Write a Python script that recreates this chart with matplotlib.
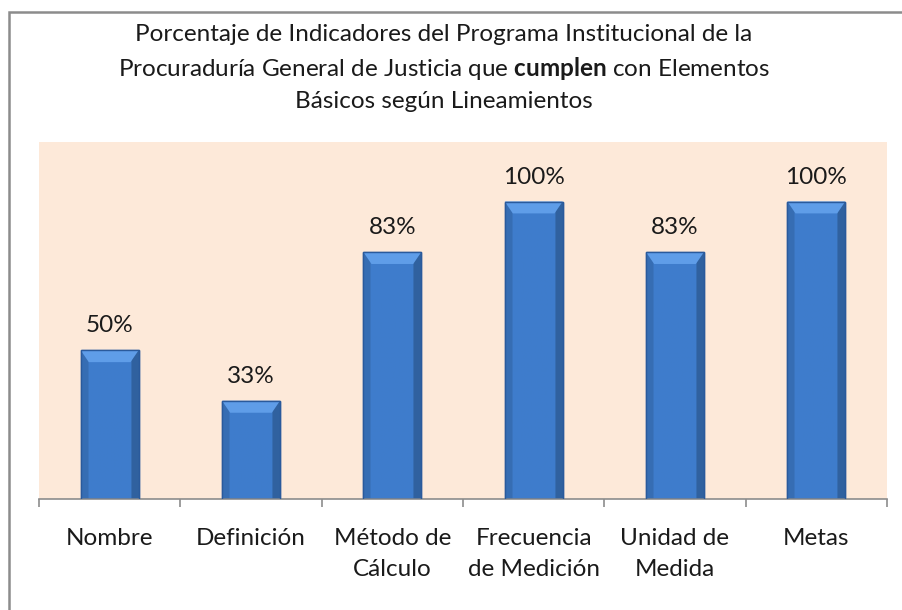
import numpy as np
import matplotlib
matplotlib.use("Agg")
import matplotlib.pyplot as plt
from matplotlib.patches import Rectangle, Polygon

plt.rcParams['font.family'] = ['Lato', 'DejaVu Sans']
plt.rcParams['mathtext.fontset'] = 'custom'
plt.rcParams['mathtext.rm'] = 'Lato'
plt.rcParams['mathtext.bf'] = 'Lato:bold'

# Data
categories = ["Nombre", "Definición", "Método de\nCálculo", "Frecuencia\nde Medición",
              "Unidad de\nMedida", "Metas"]
values = [0.50, 0.33, 0.83, 1.00, 0.83, 1.00]
labels = ["50%", "33%", "83%", "100%", "83%", "100%"]

title = ("Porcentaje de Indicadores del Programa Institucional de la\n"
         "Procuraduría General de Justicia que $\\mathbf{cumplen}$ con Elementos\n"
         "Básicos según Lineamientos")

fs = 17.5

fig = plt.figure(figsize=(9.02, 6.10), dpi=100)
ax = fig.add_axes([39 / 902, 1 - 499 / 610, 848 / 902, 357 / 610])
ax.set_facecolor('#FDE9D9')

# outer chart border (only left and top visible in the reference)
fig.patches.append(Rectangle((9 / 902, -0.1), 1.2, 1 - 12 / 610 + 0.1,
                             transform=fig.transFigure, fill=False,
                             edgecolor='#8C8C8C', linewidth=1.8))

x = np.arange(len(categories))
width = 0.41
bars = ax.bar(x, values, width=width, color='#3C78C6', edgecolor='#2A5A9C',
              linewidth=1.0, zorder=2)

# horizontal shading inside each bar for the bevel look
t = np.linspace(0, 1, 100)
shade = np.ones(100)
shade[t < 0.13] = 0.88
shade[t > 0.87] = 0.78
img = np.zeros((1, 100, 3))
base = np.array([0.245, 0.49, 0.80])
img[0] = base[None, :] * shade[:, None]
for b in bars:
    bx, bw, bh = b.get_x(), b.get_width(), b.get_height()
    im = ax.imshow(img, extent=(bx, bx + bw, 0, bh), aspect='auto', zorder=2.5,
                   interpolation='bilinear')
    im.set_clip_path(b)
    # light top bevel
    dx = bw * 0.14
    dy = 0.04
    top = Polygon([(bx, bh), (bx + bw, bh), (bx + bw - dx, bh - dy), (bx + dx, bh - dy)],
                  closed=True, facecolor='#5F9DE8', edgecolor='none', zorder=3)
    ax.add_patch(top)
    ax.add_patch(Rectangle((bx, 0), bw, bh, fill=False, edgecolor='#2A5A9C',
                           linewidth=1.0, zorder=3.5))

for xi, v, lab in zip(x, values, labels):
    ax.annotate(lab, (xi, v), xytext=(0, 10), textcoords='offset points',
                ha='center', va='bottom', fontsize=fs, color='#1A1A1A')

ax.set_xlim(-0.5, len(categories) - 0.5)
ax.set_ylim(0, 1.2)
ax.set_yticks([])
ax.set_xticks(x)
ax.set_xticklabels(categories, fontsize=fs, linespacing=1.6, color='#1A1A1A')
ax.tick_params(axis='x', length=0, pad=21)
ax.set_xticks(np.arange(len(categories) + 1) - 0.5, minor=True)
ax.tick_params(axis='x', which='minor', length=6, color='#8C8C8C', width=1.2)
for s in ['top', 'right', 'left']:
    ax.spines[s].set_visible(False)
ax.spines['bottom'].set_color('#8C8C8C')
ax.spines['bottom'].set_linewidth(1.2)

fig.text(444 / 902, 1 - 68 / 610, title, ha='center', va='center', fontsize=fs,
         linespacing=1.5, color='#1A1A1A')

fig.savefig("out.png", dpi=100)
